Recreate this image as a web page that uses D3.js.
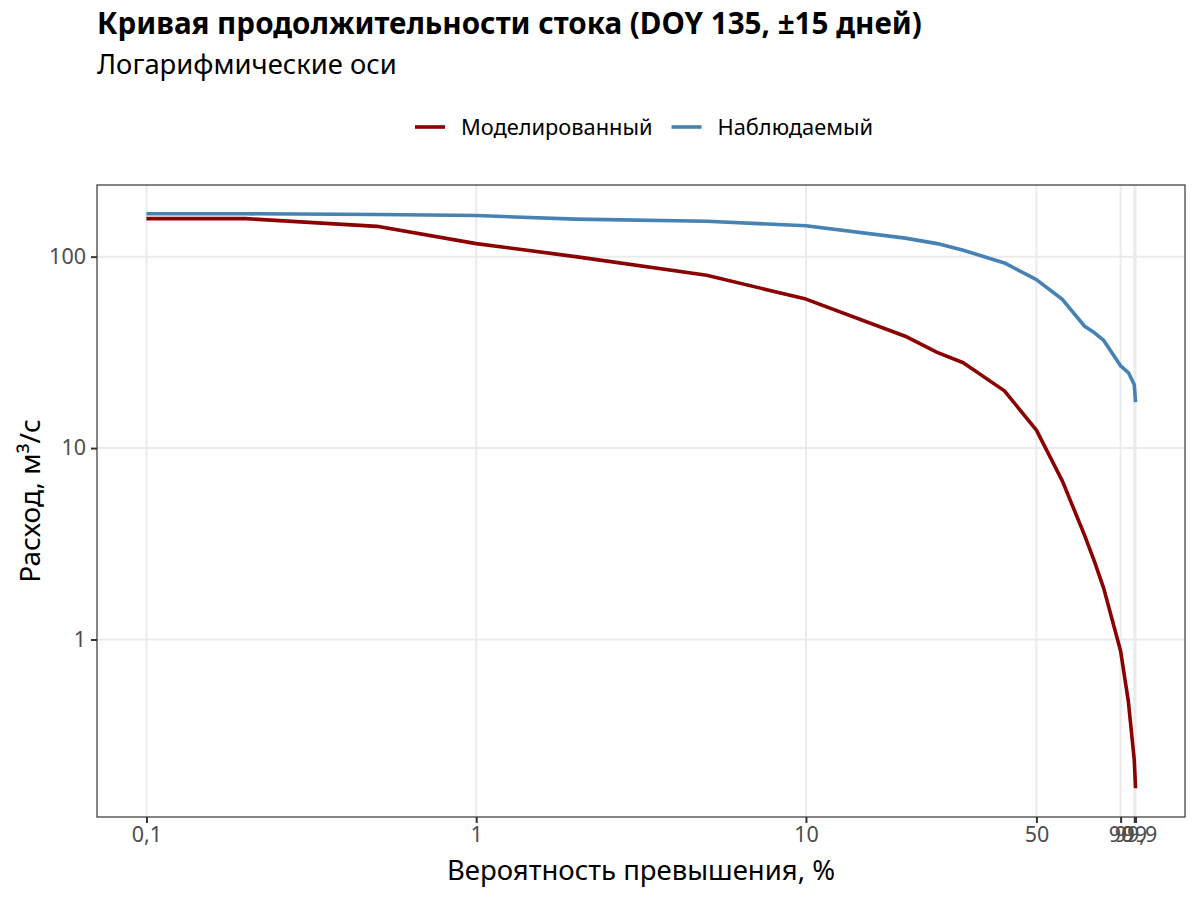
<!DOCTYPE html>
<html lang="ru">
<head>
<meta charset="utf-8">
<title>Кривая продолжительности стока</title>
<script src="https://cdn.jsdelivr.net/npm/d3@7"></script>
<style>
  body { margin: 0; background: #fff; font-family: "Noto Sans", "Open Sans", sans-serif; }
</style>
</head>
<body>
<script>
// probability of exceedance, %
var probs = [0.1, 0.2, 0.5, 1, 2, 5, 10, 20, 25, 30, 40, 50, 60, 70, 75, 80, 90, 95, 99, 99.9];
// modelled discharge, m3/s
var modelled = [158, 158, 144, 117, 100, 80, 60, 38.4, 31.6, 27.9, 19.9, 12.4, 6.7, 3.5, 2.55, 1.85, 0.87, 0.475, 0.235, 0.167];
// observed discharge, m3/s
var observed = [167.6, 167.5, 166, 164, 157, 153, 145, 125, 117, 108, 92.7, 75.9, 59.7, 43.3, 40, 36.5, 26.9, 24.8, 21.5, 17.4];

var xTicks = [0.1, 1, 10, 50, 90, 99, 99.9];
var yTicks = [1, 10, 100];
var seriesNames = ["Моделированный", "Наблюдаемый"];
var seriesColors = ["#8b0000", "#4682b4"];

var w = 1200, h = 900;
var m = {left: 97, right: 15, top: 185, bottom: 83};

var svg = d3.select("body").append("svg")
  .attr("width", w).attr("height", h);

// ggplot-like 5% expansion in log space
function expandLog(ext) {
  var a = Math.log10(ext[0]), b = Math.log10(ext[1]), d = (b - a) * 0.05;
  return [Math.pow(10, a - d), Math.pow(10, b + d)];
}

var xScale = d3.scaleLog()
  .domain(expandLog(d3.extent(probs)))
  .range([m.left, w - m.right]);

var yScale = d3.scaleLog()
  .domain(expandLog(d3.extent(modelled.concat(observed))))
  .range([h - m.bottom, m.top]);

var fmt = function(v) { return String(v).replace(".", ","); };

// gridlines
svg.append("g").selectAll("line").data(yTicks).enter().append("line")
  .attr("x1", m.left).attr("x2", w - m.right)
  .attr("y1", function(d) { return yScale(d); })
  .attr("y2", function(d) { return yScale(d); })
  .attr("stroke", "#ebebeb").attr("stroke-width", 2);
svg.append("g").selectAll("line").data(xTicks).enter().append("line")
  .attr("y1", m.top).attr("y2", h - m.bottom)
  .attr("x1", function(d) { return xScale(d); })
  .attr("x2", function(d) { return xScale(d); })
  .attr("stroke", "#ebebeb").attr("stroke-width", 2);

// lines
var line = d3.line()
  .x(function(d) { return xScale(d[0]); })
  .y(function(d) { return yScale(d[1]); });

[modelled, observed].forEach(function(s, i) {
  svg.append("path")
    .datum(probs.map(function(p, j) { return [p, s[j]]; }))
    .attr("d", line)
    .attr("fill", "none")
    .attr("stroke", seriesColors[i])
    .attr("stroke-width", 3.6)
    .attr("stroke-linejoin", "round");
});

// panel border
svg.append("rect")
  .attr("x", m.left).attr("y", m.top)
  .attr("width", w - m.left - m.right)
  .attr("height", h - m.top - m.bottom)
  .attr("fill", "none").attr("stroke", "#333333").attr("stroke-width", 1.2);

// axes
var xAxis = d3.axisBottom(xScale).tickValues(xTicks).tickFormat(fmt).tickSize(6).tickPadding(4);
var yAxis = d3.axisLeft(yScale).tickValues(yTicks).tickFormat(fmt).tickSize(6).tickPadding(5);

var gx = svg.append("g")
  .attr("transform", "translate(0," + (h - m.bottom) + ")")
  .call(xAxis);
var gy = svg.append("g")
  .attr("transform", "translate(" + m.left + ",0)")
  .call(yAxis);

[gx, gy].forEach(function(g) {
  g.select(".domain").remove();
  g.selectAll(".tick line").attr("stroke", "#333333").attr("stroke-width", 2);
  g.selectAll(".tick text")
    .attr("fill", "#4d4d4d")
    .style("font-family", "Noto Sans")
    .style("font-size", "21.5px");
});

// axis titles
svg.append("text")
  .attr("x", (m.left + w - m.right) / 2).attr("y", 880)
  .attr("text-anchor", "middle")
  .style("font-size", "27.5px")
  .text("Вероятность превышения, %");

svg.append("text")
  .attr("transform", "translate(40," + ((m.top + h - m.bottom) / 2) + ") rotate(-90)")
  .attr("text-anchor", "middle")
  .style("font-size", "28px")
  .text("Расход, м³/с");

// title
svg.append("text")
  .attr("x", 97).attr("y", 34)
  .style("font-size", "29.6px").style("font-weight", "bold")
  .text("Кривая продолжительности стока (DOY 135, ±15 дней)");
svg.append("text")
  .attr("x", 97).attr("y", 74)
  .style("font-size", "27.4px")
  .text("Логарифмические оси");

// legend
var legend = svg.append("g").attr("transform", "translate(415,127)");
var lx = 0;
seriesNames.forEach(function(name, i) {
  var g = legend.append("g").attr("transform", "translate(" + lx + ",0)");
  g.append("line")
    .attr("x1", 0).attr("x2", 30).attr("y1", 0).attr("y2", 0)
    .attr("stroke", seriesColors[i]).attr("stroke-width", 3.6);
  var t = g.append("text")
    .attr("x", 46).attr("y", 0).attr("dy", "0.35em")
    .style("font-size", "21.8px")
    .text(name);
  lx += 46 + t.node().getComputedTextLength() + 19;
});
</script>
</body>
</html>
